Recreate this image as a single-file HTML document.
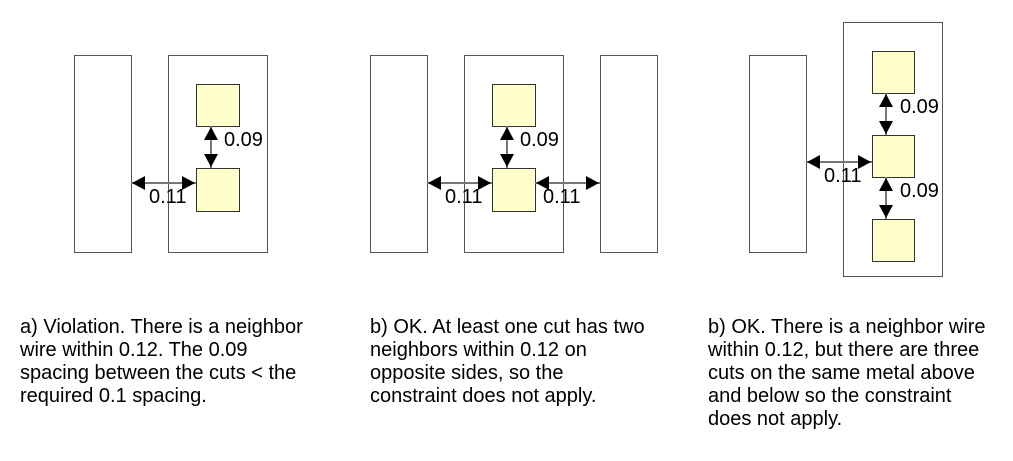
<!DOCTYPE html>
<html><head><style>
html,body{margin:0;padding:0;background:#fff;}
svg{display:block;}
text{font-family:"Liberation Sans",sans-serif;font-size:20px;fill:#000;}
</style></head><body>
<svg width="1013" height="461" viewBox="0 0 1013 461" xmlns="http://www.w3.org/2000/svg">
<g fill="#fff" stroke="#555" stroke-width="1">
<rect x="74.5" y="55.5" width="57" height="197"/>
<rect x="168.5" y="55.5" width="99" height="197"/>
<rect x="370.5" y="55.5" width="57" height="197"/>
<rect x="464.5" y="55.5" width="99" height="197"/>
<rect x="600.5" y="55.5" width="57" height="197"/>
<rect x="749.5" y="55.5" width="57" height="197"/>
<rect x="843.5" y="22.5" width="99" height="254"/>
</g>
<g fill="#ffffcc" stroke="#333" stroke-width="1">
<rect x="196.5" y="84.5" width="43" height="42"/>
<rect x="196.5" y="168.5" width="43" height="43"/>
<rect x="492.5" y="84.5" width="43" height="42"/>
<rect x="492.5" y="168.5" width="43" height="43"/>
<rect x="872.5" y="51.5" width="42" height="42"/>
<rect x="872.5" y="135.5" width="42" height="42"/>
<rect x="872.5" y="219.5" width="42" height="42"/>
</g>
<g stroke="#777" stroke-width="2">
<line x1="131" y1="183" x2="196" y2="183"/>
<line x1="211" y1="126" x2="211" y2="168"/>
<line x1="427" y1="183" x2="492" y2="183"/>
<line x1="535" y1="183" x2="600" y2="183"/>
<line x1="507" y1="126" x2="507" y2="168"/>
<line x1="806" y1="162" x2="872" y2="162"/>
<line x1="886" y1="93" x2="886" y2="135"/>
<line x1="886" y1="177" x2="886" y2="219"/>
</g>
<g fill="#000">
<polygon points="132,183 145,176 145,190"/>
<polygon points="195,183 182,176 182,190"/>
<polygon points="211,127 204,140 218,140"/>
<polygon points="211,167 204,154 218,154"/>
<polygon points="428,183 441,176 441,190"/>
<polygon points="491,183 478,176 478,190"/>
<polygon points="536,183 549,176 549,190"/>
<polygon points="599,183 586,176 586,190"/>
<polygon points="507,127 500,140 514,140"/>
<polygon points="507,167 500,154 514,154"/>
<polygon points="807,162 820,155 820,169"/>
<polygon points="871,162 858,155 858,169"/>
<polygon points="886,94 879,107 893,107"/>
<polygon points="886,134 879,121 893,121"/>
<polygon points="886,178 879,191 893,191"/>
<polygon points="886,218 879,205 893,205"/>
</g>
<g style="font-size:19.5px">
<text x="224" y="146">0.09</text>
<text x="149" y="203">0.11</text>
<text x="520" y="146">0.09</text>
<text x="445" y="203">0.11</text>
<text x="543" y="203">0.11</text>
<text x="900" y="113">0.09</text>
<text x="900" y="197">0.09</text>
<text x="824" y="182">0.11</text>
</g>
<text x="20" y="333">a) Violation. There is a neighbor</text>
<text x="20" y="356">wire within 0.12. The 0.09</text>
<text x="20" y="379">spacing between the cuts &lt; the</text>
<text x="20" y="402">required 0.1 spacing.</text>

<text x="370" y="333">b) OK. At least one cut has two</text>
<text x="370" y="356">neighbors within 0.12 on</text>
<text x="370" y="379">opposite sides, so the</text>
<text x="370" y="402">constraint does not apply.</text>

<text x="708" y="333">b) OK. There is a neighbor wire</text>
<text x="708" y="356">within 0.12, but there are three</text>
<text x="708" y="379">cuts on the same metal above</text>
<text x="708" y="402">and below so the constraint</text>
<text x="708" y="425">does not apply.</text>
</svg>
</body></html>
